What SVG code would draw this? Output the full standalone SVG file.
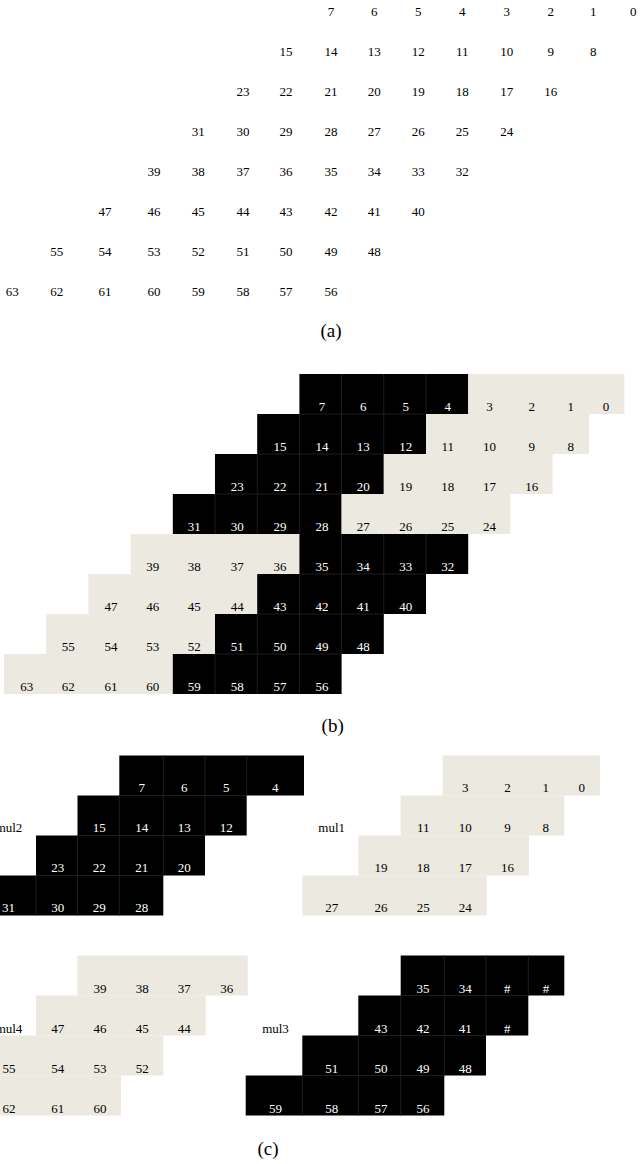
<svg xmlns="http://www.w3.org/2000/svg" width="640" height="1164" viewBox="0 0 640 1164">
<style>
text{font-family:"Liberation Serif","Times New Roman",serif;font-size:13px;text-anchor:middle;fill:#000}
text.w{fill:#fff}
text.cap{font-size:19px}
.blk{fill:#000}
.lt{fill:#ECE9E0}
.sep{stroke:#1e1e1e;stroke-width:1;fill:none}
</style>
<rect x="0" y="0" width="640" height="1164" fill="#fff"/>

<g id="panel-a">
<text x="331" y="16">7</text><text x="374.3" y="16">6</text><text x="418.3" y="16">5</text><text x="462.3" y="16">4</text><text x="506.7" y="16">3</text><text x="550.7" y="16">2</text><text x="593.3" y="16">1</text><text x="633.3" y="16">0</text>
<text x="286" y="56">15</text><text x="331" y="56">14</text><text x="374.3" y="56">13</text><text x="418.3" y="56">12</text><text x="462.3" y="56">11</text><text x="506.7" y="56">10</text><text x="550.7" y="56">9</text><text x="593.3" y="56">8</text>
<text x="243" y="96">23</text><text x="286" y="96">22</text><text x="331" y="96">21</text><text x="374.3" y="96">20</text><text x="418.3" y="96">19</text><text x="462.3" y="96">18</text><text x="506.7" y="96">17</text><text x="550.7" y="96">16</text>
<text x="198.3" y="136">31</text><text x="243" y="136">30</text><text x="286" y="136">29</text><text x="331" y="136">28</text><text x="374.3" y="136">27</text><text x="418.3" y="136">26</text><text x="462.3" y="136">25</text><text x="506.7" y="136">24</text>
<text x="154" y="176">39</text><text x="198.3" y="176">38</text><text x="243" y="176">37</text><text x="286" y="176">36</text><text x="331" y="176">35</text><text x="374.3" y="176">34</text><text x="418.3" y="176">33</text><text x="462.3" y="176">32</text>
<text x="105" y="216">47</text><text x="154" y="216">46</text><text x="198.3" y="216">45</text><text x="243" y="216">44</text><text x="286" y="216">43</text><text x="331" y="216">42</text><text x="374.3" y="216">41</text><text x="418.3" y="216">40</text>
<text x="56.7" y="256">55</text><text x="105" y="256">54</text><text x="154" y="256">53</text><text x="198.3" y="256">52</text><text x="243" y="256">51</text><text x="286" y="256">50</text><text x="331" y="256">49</text><text x="374.3" y="256">48</text>
<text x="12.3" y="296">63</text><text x="56.7" y="296">62</text><text x="105" y="296">61</text><text x="154" y="296">60</text><text x="198.3" y="296">59</text><text x="243" y="296">58</text><text x="286" y="296">57</text><text x="331" y="296">56</text>
<text class="cap" x="331" y="337">(a)</text>
</g>

<g id="panel-b">
<rect class="blk" x="299.4" y="374" width="168.8" height="40"/><rect class="lt" x="468.2" y="374" width="156.1" height="40"/>
<rect class="blk" x="257.2" y="414" width="168.8" height="40"/><rect class="lt" x="426" y="414" width="163" height="40"/>
<rect class="blk" x="215" y="454" width="168.8" height="40"/><rect class="lt" x="383.8" y="454" width="168.8" height="40"/>
<rect class="blk" x="172.8" y="494" width="168.8" height="40"/><rect class="lt" x="341.6" y="494" width="168.8" height="40"/>
<rect class="lt" x="130.6" y="534" width="168.8" height="40"/><rect class="blk" x="299.4" y="534" width="168.8" height="40"/>
<rect class="lt" x="88.4" y="574" width="168.8" height="40"/><rect class="blk" x="257.2" y="574" width="168.8" height="40"/>
<rect class="lt" x="46.2" y="614" width="168.8" height="40"/><rect class="blk" x="215" y="614" width="168.8" height="40"/>
<rect class="lt" x="4" y="654" width="168.8" height="40"/><rect class="blk" x="172.8" y="654" width="168.8" height="40"/>
<path class="sep" d="M341.6 374V414M383.8 374V414M426 374V414M299.4 414V454M341.6 414V454M383.8 414V454M257.2 454V494M299.4 454V494M341.6 454V494M215 494V534M257.2 494V534M299.4 494V534M341.6 534V574M383.8 534V574M426 534V574M299.4 574V614M341.6 574V614M383.8 574V614M257.2 614V654M299.4 614V654M341.6 614V654M215 654V694M257.2 654V694M299.4 654V694M299.4 414H426M257.2 454H383.8M215 494H341.6M299.4 574H426M257.2 614H383.8M215 654H341.6"/>
<text class="w" x="322" y="411">7</text><text class="w" x="363.3" y="411">6</text><text class="w" x="405.7" y="411">5</text><text class="w" x="447.7" y="411">4</text><text x="489.5" y="411">3</text><text x="531.7" y="411">2</text><text x="570.7" y="411">1</text><text x="606" y="411">0</text>
<text class="w" x="280" y="451">15</text><text class="w" x="322" y="451">14</text><text class="w" x="363.3" y="451">13</text><text class="w" x="405.7" y="451">12</text><text x="447.7" y="451">11</text><text x="489.5" y="451">10</text><text x="531.7" y="451">9</text><text x="570.7" y="451">8</text>
<text class="w" x="237.3" y="491">23</text><text class="w" x="280" y="491">22</text><text class="w" x="322" y="491">21</text><text class="w" x="363.3" y="491">20</text><text x="405.7" y="491">19</text><text x="447.7" y="491">18</text><text x="489.5" y="491">17</text><text x="531.7" y="491">16</text>
<text class="w" x="194.3" y="531">31</text><text class="w" x="237.3" y="531">30</text><text class="w" x="280" y="531">29</text><text class="w" x="322" y="531">28</text><text x="363.3" y="531">27</text><text x="405.7" y="531">26</text><text x="447.7" y="531">25</text><text x="489.5" y="531">24</text>
<text x="152.7" y="571">39</text><text x="194.3" y="571">38</text><text x="237.3" y="571">37</text><text x="280" y="571">36</text><text class="w" x="322" y="571">35</text><text class="w" x="363.3" y="571">34</text><text class="w" x="405.7" y="571">33</text><text class="w" x="447.7" y="571">32</text>
<text x="111" y="611">47</text><text x="152.7" y="611">46</text><text x="194.3" y="611">45</text><text x="237.3" y="611">44</text><text class="w" x="280" y="611">43</text><text class="w" x="322" y="611">42</text><text class="w" x="363.3" y="611">41</text><text class="w" x="405.7" y="611">40</text>
<text x="68.3" y="651">55</text><text x="111" y="651">54</text><text x="152.7" y="651">53</text><text x="194.3" y="651">52</text><text class="w" x="237.3" y="651">51</text><text class="w" x="280" y="651">50</text><text class="w" x="322" y="651">49</text><text class="w" x="363.3" y="651">48</text>
<text x="26.7" y="691">63</text><text x="68.3" y="691">62</text><text x="111" y="691">61</text><text x="152.7" y="691">60</text><text class="w" x="194.3" y="691">59</text><text class="w" x="237.3" y="691">58</text><text class="w" x="280" y="691">57</text><text class="w" x="322" y="691">56</text>
<text class="cap" x="332.7" y="732">(b)</text>
</g>

<g id="mul2">
<rect class="blk" x="119.3" y="755.5" width="184.7" height="40"/>
<rect class="blk" x="77.5" y="795.5" width="169.2" height="40"/>
<rect class="blk" x="36" y="835.5" width="169" height="40"/>
<rect class="blk" x="0" y="875.5" width="163.3" height="40"/>
<path class="sep" d="M163.3 755.5V795.5M205 755.5V795.5M246.7 755.5V795.5M119.3 795.5V835.5M163.3 795.5V835.5M205 795.5V835.5M77.5 835.5V875.5M119.3 835.5V875.5M163.3 835.5V875.5M36 875.5V915.5M77.5 875.5V915.5M119.3 875.5V915.5M119.3 795.5H246.7M77.5 835.5H205M36 875.5H163.3"/>
<text class="w" x="141.7" y="792">7</text><text class="w" x="184.3" y="792">6</text><text class="w" x="226.3" y="792">5</text><text class="w" x="275.3" y="792">4</text>
<text x="9" y="832">mul2</text>
<text class="w" x="99.3" y="832">15</text><text class="w" x="141.7" y="832">14</text><text class="w" x="184.3" y="832">13</text><text class="w" x="226.3" y="832">12</text>
<text class="w" x="57.7" y="872">23</text><text class="w" x="99.3" y="872">22</text><text class="w" x="141.7" y="872">21</text><text class="w" x="184.3" y="872">20</text>
<text class="w" x="8.5" y="912">31</text><text class="w" x="57.7" y="912">30</text><text class="w" x="99.3" y="912">29</text><text class="w" x="141.7" y="912">28</text>
</g>

<g id="mul1">
<rect class="lt" x="442.7" y="755.5" width="157.3" height="40"/>
<rect class="lt" x="400.7" y="795.5" width="163.6" height="40"/>
<rect class="lt" x="358.3" y="835.5" width="170.7" height="40"/>
<rect class="lt" x="302.3" y="875.5" width="184.4" height="40"/>
<text x="465.3" y="792">3</text><text x="507.5" y="792">2</text><text x="545.7" y="792">1</text><text x="581.7" y="792">0</text>
<text x="331.7" y="832">mul1</text>
<text x="423.3" y="832">11</text><text x="465.3" y="832">10</text><text x="507.5" y="832">9</text><text x="545.7" y="832">8</text>
<text x="381" y="872">19</text><text x="423.3" y="872">18</text><text x="465.3" y="872">17</text><text x="507.5" y="872">16</text>
<text x="331.7" y="912">27</text><text x="381" y="912">26</text><text x="423.3" y="912">25</text><text x="465.3" y="912">24</text>
</g>

<g id="mul4">
<rect class="lt" x="77.3" y="955.5" width="170.4" height="40"/>
<rect class="lt" x="36" y="995.5" width="169.7" height="40"/>
<rect class="lt" x="0" y="1035.5" width="163.3" height="40"/>
<rect class="lt" x="0" y="1075.5" width="121" height="40"/>
<text x="100" y="993">39</text><text x="142.3" y="993">38</text><text x="184.3" y="993">37</text><text x="226.7" y="993">36</text>
<text x="9" y="1033">mul4</text>
<text x="57.7" y="1033">47</text><text x="100" y="1033">46</text><text x="142.3" y="1033">45</text><text x="184.3" y="1033">44</text>
<text x="9" y="1073">55</text><text x="57.7" y="1073">54</text><text x="100" y="1073">53</text><text x="142.3" y="1073">52</text>
<text x="9" y="1113">62</text><text x="57.7" y="1113">61</text><text x="100" y="1113">60</text>
</g>

<g id="mul3">
<rect class="blk" x="400.7" y="955.5" width="163.6" height="40"/>
<rect class="blk" x="358.3" y="995.5" width="170" height="40"/>
<rect class="blk" x="302.3" y="1035.5" width="183.7" height="40"/>
<rect class="blk" x="245.7" y="1075.5" width="198.6" height="40"/>
<path class="sep" d="M444.3 955.5V995.5M486 955.5V995.5M528.3 955.5V995.5M400.7 995.5V1035.5M444.3 995.5V1035.5M486 995.5V1035.5M358.3 1035.5V1075.5M400.7 1035.5V1075.5M444.3 1035.5V1075.5M302.3 1075.5V1115.5M358.3 1075.5V1115.5M400.7 1075.5V1115.5M400.7 995.5H528.3M358.3 1035.5H486M302.3 1075.5H444.3"/>
<text class="w" x="423" y="993">35</text><text class="w" x="465.3" y="993">34</text><text class="w" x="507.3" y="993">#</text><text class="w" x="546" y="993">#</text>
<text x="275.5" y="1033">mul3</text>
<text class="w" x="381" y="1033">43</text><text class="w" x="423" y="1033">42</text><text class="w" x="465.3" y="1033">41</text><text class="w" x="507.3" y="1033">#</text>
<text class="w" x="331.7" y="1073">51</text><text class="w" x="381" y="1073">50</text><text class="w" x="423" y="1073">49</text><text class="w" x="465.3" y="1073">48</text>
<text class="w" x="275.5" y="1113">59</text><text class="w" x="331.7" y="1113">58</text><text class="w" x="381" y="1113">57</text><text class="w" x="423" y="1113">56</text>
</g>

<g id="caption-c">
<text class="cap" x="268" y="1155">(c)</text>
</g>
</svg>
